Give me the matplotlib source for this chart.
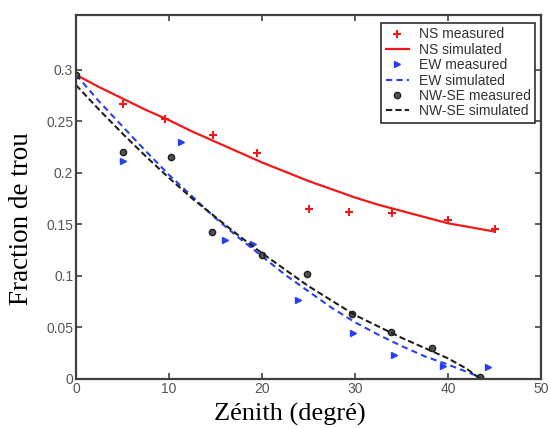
import numpy as np
import matplotlib.pyplot as plt

# Zenith angles (degrees) and gap fraction values
ns_x = [0, 5, 9.6, 14.7, 19.5, 25, 29.4, 34, 40, 45]
ns_meas = [0.295, 0.267, 0.252, 0.237, 0.219, 0.165, 0.162, 0.161, 0.154, 0.145]

ew_x = [0, 5, 11.3, 16, 19, 23.9, 29.8, 34.2, 39.5, 44.3]
ew_meas = [0.295, 0.211, 0.23, 0.135, 0.131, 0.077, 0.045, 0.023, 0.013, 0.012]

nwse_x = [0, 5, 10.2, 14.6, 20, 24.8, 29.7, 33.9, 38.3, 43.4]
nwse_meas = [0.295, 0.22, 0.215, 0.143, 0.12, 0.102, 0.063, 0.046, 0.03, 0.002]

# simulated curves
ns_sim_x = [0, 2.5, 5, 7.5, 10, 12.5, 15, 17.5, 20, 22.5, 25, 27.5, 30, 32.5, 35, 37.5, 40, 42.5, 45]
ns_sim = [0.295, 0.283, 0.272, 0.261, 0.251, 0.240, 0.230, 0.220, 0.210, 0.201, 0.192, 0.184,
          0.176, 0.169, 0.163, 0.157, 0.151, 0.147, 0.143]

ew_sim_x = [0, 2.5, 5, 7.5, 10, 12.5, 15, 17.5, 20, 22.5, 25, 27.5, 30, 32.5, 35, 37.5, 40, 42, 44]
ew_sim = [0.295, 0.269, 0.245, 0.221, 0.198, 0.177, 0.156, 0.137, 0.119, 0.101, 0.085, 0.069,
          0.055, 0.043, 0.032, 0.022, 0.014, 0.007, 0.0]

nwse_sim_x = [0, 2.5, 5, 7.5, 10, 12.5, 15, 17.5, 20, 22.5, 25, 27.5, 30, 32.5, 35, 37.5, 40, 42, 43.5]
nwse_sim = [0.285, 0.261, 0.238, 0.216, 0.195, 0.175, 0.157, 0.139, 0.122, 0.106, 0.090, 0.076,
            0.062, 0.051, 0.040, 0.030, 0.020, 0.010, 0.0]

xticks = [0, 10, 20, 30, 40, 50]
yticks = [0, 0.05, 0.1, 0.15, 0.2, 0.25, 0.3]

red = '#f01818'
blue = '#2840f0'
dark = '#202020'

fig = plt.figure(figsize=(5.51, 4.28), dpi=100)
ax = fig.add_axes([76 / 551, 1 - 379 / 428, 465 / 551, 364 / 428])

ax.plot(ns_x, ns_meas, '+', color=red, ms=6, mew=1.5, label='NS measured')
ax.plot(ns_sim_x, ns_sim, '-', color=red, lw=1.6, label='NS simulated')
ax.plot(ew_x, ew_meas, '>', color=blue, ms=5, mec=blue, label='EW measured')
ax.plot(ew_sim_x, ew_sim, '--', color=blue, lw=1.5, dashes=(3, 2), label='EW simulated')
ax.plot(nwse_x, nwse_meas, 'o', color='#505050', mec=dark, ms=4.5, label='NW-SE measured')
ax.plot(nwse_sim_x, nwse_sim, '--', color=dark, lw=1.5, dashes=(3, 1.5), label='NW-SE simulated')

ax.set_xlim(0, 50)
ax.set_ylim(0, 0.353)
ax.set_xticks(xticks)
ax.set_xticklabels([str(t) for t in xticks])
ax.set_yticks(yticks)
ax.set_yticklabels(['0', '0.05', '0.1', '0.15', '0.2', '0.25', '0.3'])

for s in ax.spines.values():
    s.set_color('#404040')
    s.set_linewidth(1.6)
ax.tick_params(direction='in', length=4, width=1.2, top=True, right=True,
               labelsize=10, labelcolor='#555555', pad=2, color='#404040')
for lab in ax.get_xticklabels() + ax.get_yticklabels():
    lab.set_family('Liberation Sans')

leg = ax.legend(loc='upper right', bbox_to_anchor=(0.993, 0.985), prop={'family': 'Liberation Sans', 'size': 10},
                frameon=True, fancybox=False, edgecolor='#303030', framealpha=1,
                handlelength=1.7, handletextpad=0.7, labelspacing=0.1, borderpad=0.3,
                borderaxespad=0.2)
leg.get_frame().set_linewidth(1.2)
for t in leg.get_texts():
    t.set_color('#333333')

fig.text(22 / 551, 1 - 219 / 428, 'Fraction de trou', rotation=90, ha='center', va='center',
         family='Liberation Serif', fontsize=19.5)
fig.text(290 / 551, 1 - 421 / 428, 'Zénith (degré)', ha='center', va='baseline',
         family='Liberation Serif', fontsize=19)

fig.savefig('out.png', dpi=100)
